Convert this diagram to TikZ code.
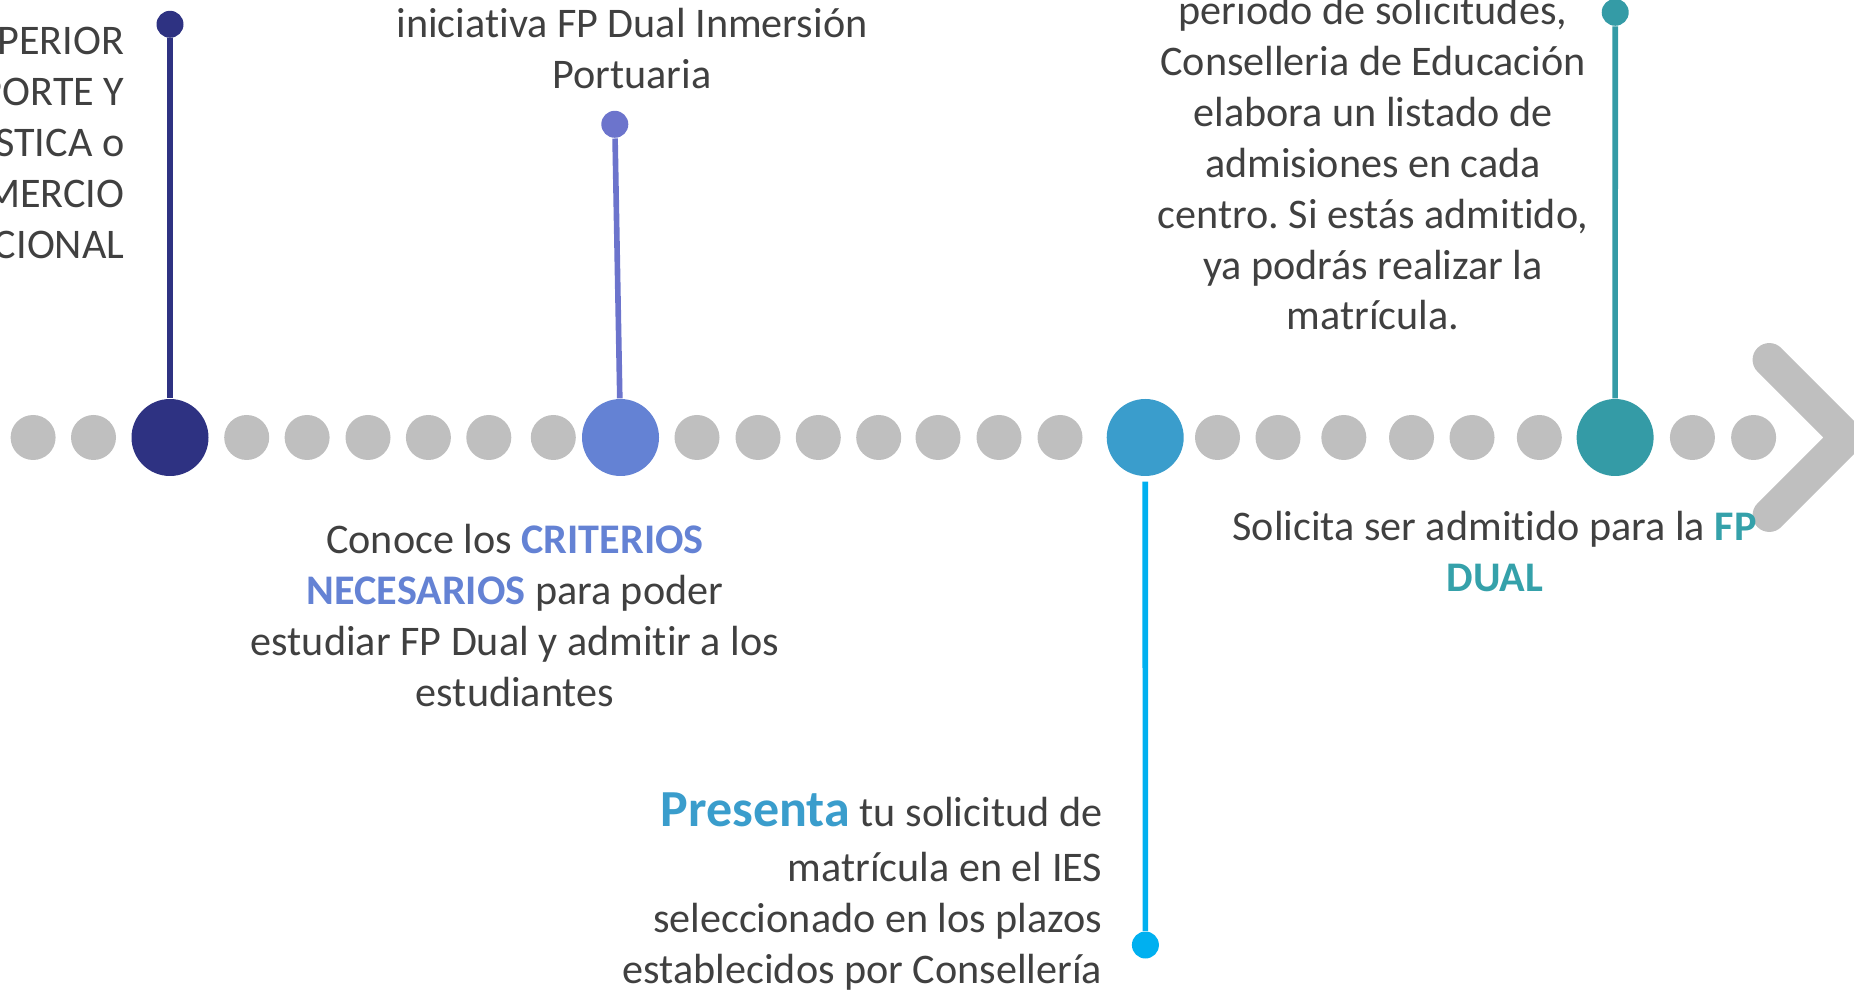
\documentclass[tikz,border=0pt]{standalone}
\usepackage{fontspec}
\setmainfont{Carlito}[Ligatures = NoCommon]
\usepackage{tikz}
\usetikzlibrary{shapes}
\usepackage{xcolor}
\definecolor{fpnavy}{HTML}{2E3282}
\definecolor{fpperi}{HTML}{6482D4}
\definecolor{fpperiline}{HTML}{6C74CC}
\definecolor{fpsky}{HTML}{3A9DCC}
\definecolor{fpcyan}{HTML}{00B0F0}
\definecolor{fpteal}{HTML}{349BA6}
\definecolor{fptealtext}{HTML}{35A1AA}
\definecolor{fpgray}{HTML}{BFBFBF}
\definecolor{fptext}{HTML}{404040}
\newcommand{\fpbold}[2]{{\bfseries\color{#1}#2}}
\frenchspacing

\begin{document}
\begin{tikzpicture}[
  dot/.style = {fill = fpgray, circle, minimum size = 4.5mm, inner sep = 0},
  bigdot/.style = {circle, minimum size = 7.7mm, inner sep = 0},
  tipdot/.style = {circle, minimum size = 2.7mm, inner sep = 0},
  stem/.style = {line width = 1.6pt},
  txt/.style = {font = \fontsize{12}{14.5}\selectfont, text = fptext, inner sep = 0}]
  \useasboundingbox (0, 0) rectangle (18.54, 9.90);
  \clip (0, 0) rectangle (18.54, 9.90);
  % grey dots of the line
  \foreach \x [count = \i] in {0.331, 0.935, 2.467, 3.071, 3.680, 4.284, 4.888, 5.533,
      6.970, 7.580, 8.183, 8.787, 9.380, 9.990, 10.600,
      12.175, 12.780, 13.438, 14.115, 14.720, 15.393, 16.924, 17.536}
    \node [dot] (g\i) at (\x, 5.525) {};
  % arrow head
  \coordinate (chevtop) at (17.693, 6.302);
  \coordinate (chevtip) at (18.470, 5.525);
  \coordinate (chevbot) at (17.693, 4.748);
  \draw [fpgray, line width = 3.35mm, line cap = round, line join = miter] (chevtop) -- (chevtip) -- (chevbot);
  % steps
  \node [bigdot, fill = fpnavy] (d1) at (1.700, 5.525) {};
  \node [bigdot, fill = fpperi] (d2) at (6.205, 5.525) {};
  \node [bigdot, fill = fpsky] (d3) at (11.452, 5.525) {};
  \node [bigdot, fill = fpteal] (d4) at (16.151, 5.525) {};
  \node [tipdot, fill = fpnavy] (t1) at (1.700, 9.657) {};
  \node [tipdot, fill = fpperiline] (t2) at (6.148, 8.657) {};
  \node [tipdot, fill = fpcyan] (t3) at (11.454, 0.450) {};
  \node [tipdot, fill = fpteal] (t4) at (16.152, 9.777) {};
  \draw [stem, fpnavy] (t1) -- (d1);
  \draw [stem, fpperiline] (t2) -- (d2);
  \draw [stem, fpcyan, shorten <= 0.5mm] (d3) -- (t3);
  \draw [stem, fpteal] (t4) -- (d4);
  % texts (base = last line)
  \node [txt, align = right, anchor = base east] (ciclo) at (1.25, 7.317)
    {SUPERIOR\\TRANSPORTE Y\\LOGÍSTICA o\\COMERCIO\\INTERNACIONAL};
  \node [txt, align = center, anchor = base] (inmersion) at (6.32, 9.017)
    {iniciativa FP Dual Inmersión\\Portuaria};
  \node [txt, align = center, anchor = base] (criterios) at (5.15, 2.833)
    {Conoce los \fpbold{fpperi}{CRITERIOS}\\\fpbold{fpperi}{NECESARIOS} para poder\\estudiar FP Dual y admitir a los\\estudiantes};
  \node [txt, align = right, anchor = base east] (presenta) at (11.03, 0.067)
    {{\fontsize{14.8}{17}\selectfont\fpbold{fpsky}{Presenta}} tu solicitud de\\[1.1pt]matrícula en el IES\\seleccionado en los plazos\\establecidos por Consellería};
  \node [txt, align = center, anchor = base] (solicita) at (14.946, 3.983)
    {Solicita ser admitido para la \fpbold{fptealtext}{FP}\\\fpbold{fptealtext}{DUAL}};
  \node [txt, align = center, anchor = base] (listado) at (13.73, 6.60)
    {periodo de solicitudes,\\Conselleria de Educación\\elabora un listado de\\admisiones en cada\\centro. Si estás admitido,\\ya podrás realizar la\\matrícula.};
\end{tikzpicture}
\end{document}
